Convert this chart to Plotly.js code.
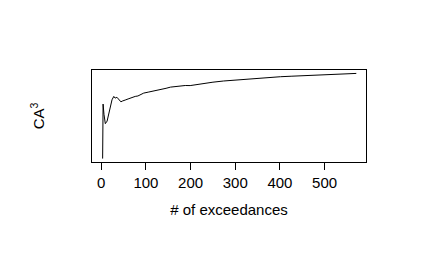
<!DOCTYPE html>
<html>
<head>
<meta charset="utf-8">
<script src="https://cdn.plot.ly/plotly-3.0.1.min.js"></script>
<style>
  html, body { margin: 0; padding: 0; background: #fff; }
  #graph { width: 436px; height: 270px; }
</style>
</head>
<body>
<div id="graph"></div>
<script>
// 超過数と CA^3 の値
const exceedances = [3, 4, 6, 9, 13, 16, 19, 22, 24, 28, 31, 35, 38, 41, 44, 47, 50, 55, 60, 65, 70, 76, 82, 88, 95, 105, 115, 125, 135, 145, 155, 166, 177, 188, 199, 210, 229, 250, 274, 300, 326, 350, 375, 401, 425, 450, 475, 500, 525, 550, 571];
const ca3 = [0.0, 0.64, 0.52, 0.41, 0.44, 0.51, 0.58, 0.65, 0.69, 0.73, 0.71, 0.72, 0.70, 0.68, 0.666, 0.675, 0.684, 0.69, 0.70, 0.712, 0.715, 0.73, 0.735, 0.75, 0.769, 0.78, 0.79, 0.807, 0.815, 0.825, 0.839, 0.845, 0.857, 0.858, 0.857, 0.866, 0.885, 0.897, 0.911, 0.922, 0.934, 0.942, 0.951, 0.961, 0.967, 0.973, 0.98, 0.985, 0.99, 0.995, 1.0];
const xTicks = [0, 100, 200, 300, 400, 500];

const font = { family: "Liberation Sans, Arial, sans-serif", size: 15, color: "#000" };

const trace = {
  x: exceedances,
  y: ca3,
  mode: "lines",
  type: "scatter",
  line: { color: "#000", width: 1 },
  hoverinfo: "skip",
};

const layout = {
  width: 436,
  height: 270,
  margin: { l: 92, r: 70, t: 70, b: 108 },
  paper_bgcolor: "#fff",
  plot_bgcolor: "#fff",
  showlegend: false,
  font: font,
  xaxis: {
    range: [-20.8, 592.7],
    tickvals: xTicks,
    ticktext: xTicks.map(String),
    ticks: "outside",
    ticklen: 7,
    tickcolor: "#000",
    showline: true,
    mirror: true,
    linecolor: "#000",
    linewidth: 1,
    showgrid: false,
    zeroline: false,
    tickfont: font,
    title: { text: "# of exceedances", font: font, standoff: 14 },
  },
  yaxis: {
    range: [-0.04, 1.04],
    showticklabels: false,
    ticks: "",
    showline: true,
    mirror: true,
    linecolor: "#000",
    linewidth: 1,
    showgrid: false,
    zeroline: false,
    title: { text: "CA<sup>3</sup>", font: font, standoff: 42 },
  },
};

Plotly.newPlot("graph", [trace], layout, { staticPlot: true, displayModeBar: false });
</script>
</body>
</html>
